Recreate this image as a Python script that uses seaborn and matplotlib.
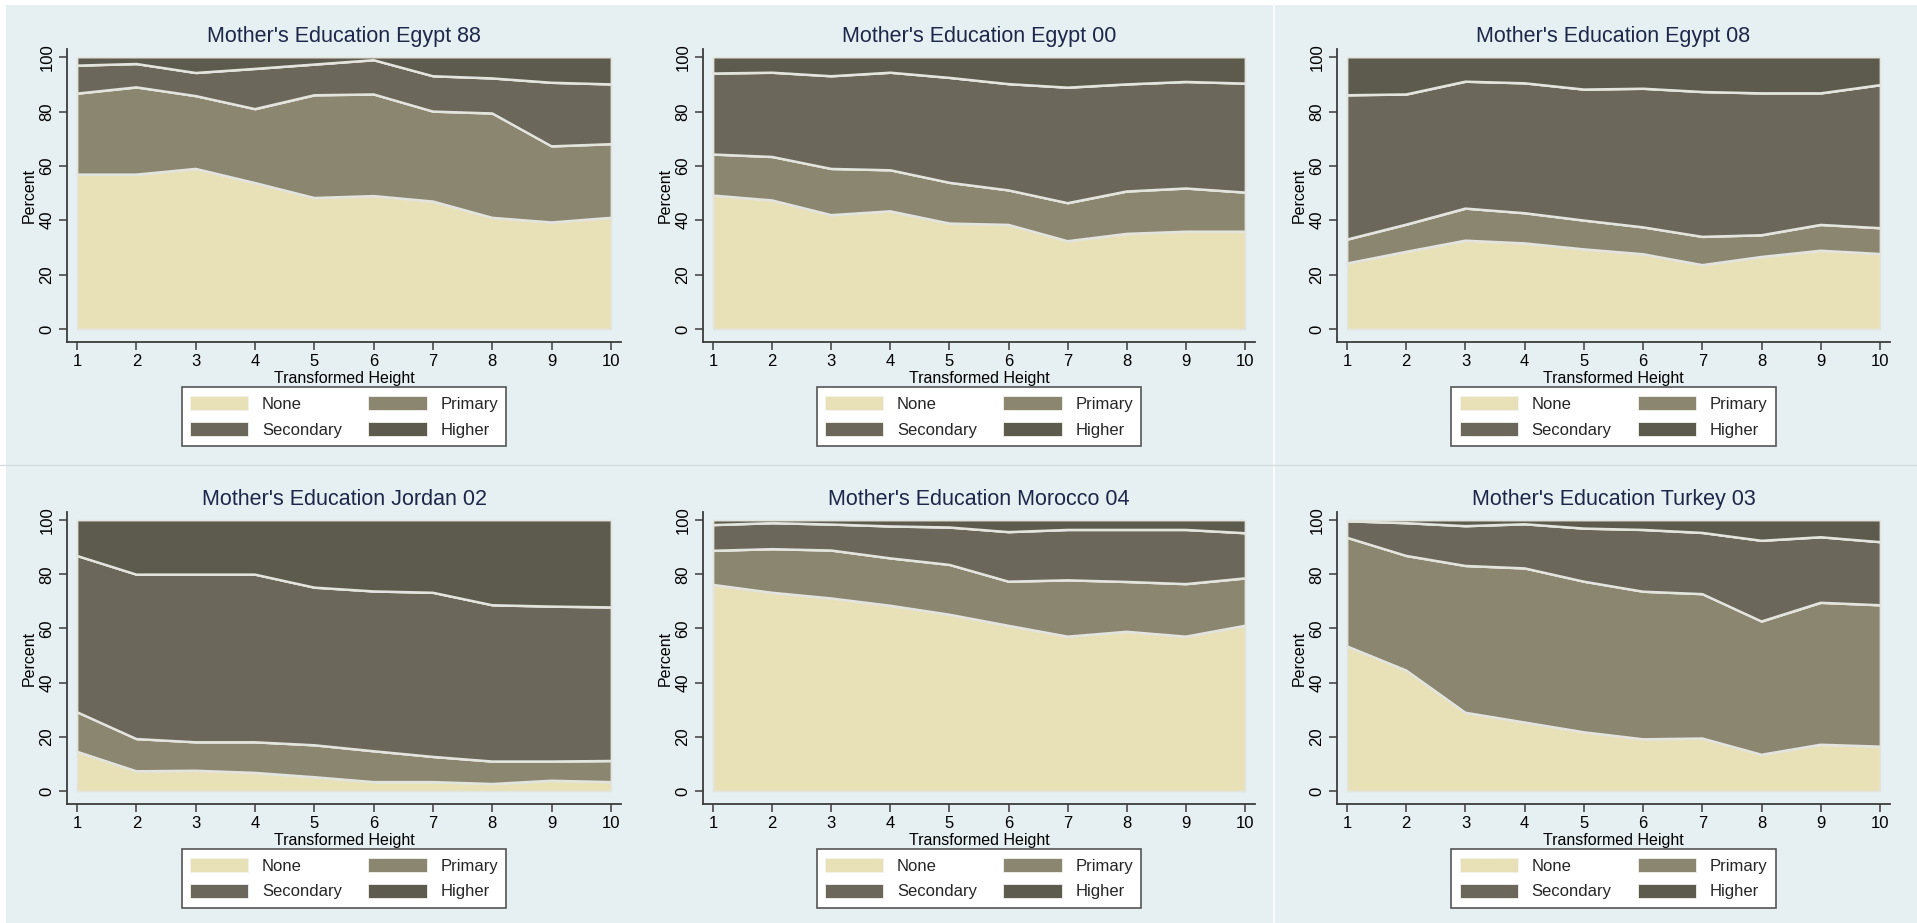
import numpy as np
import matplotlib
matplotlib.use("Agg")
import matplotlib.pyplot as plt
from matplotlib.patches import Patch, Rectangle
from matplotlib.lines import Line2D
import seaborn as sns

# Height deciles
height = [1, 2, 3, 4, 5, 6, 7, 8, 9, 10]
levels = ["None", "Primary", "Secondary", "Higher"]

# Share of mothers (%) by education level, per survey
egypt88_none = [56.8, 56.8, 58.9, 53.7, 48.2, 48.9, 46.9, 40.9, 39.2, 40.9]
egypt88_primary = [29.8, 32.1, 26.8, 27.2, 37.8, 37.4, 33.1, 38.4, 28.0, 27.1]
egypt88_secondary = [10.3, 8.6, 8.5, 14.8, 11.3, 12.6, 13.0, 12.9, 23.4, 22.0]
egypt88_higher = [3.1, 2.5, 5.8, 4.3, 2.7, 1.1, 7.0, 7.8, 9.4, 10.0]

egypt00_none = [49.1, 47.3, 41.9, 43.3, 38.8, 38.3, 32.3, 35.0, 35.8, 35.8]
egypt00_primary = [15.1, 16.0, 17.0, 15.1, 15.0, 12.7, 14.0, 15.6, 15.9, 14.4]
egypt00_secondary = [29.8, 31.0, 34.1, 35.9, 38.6, 39.1, 42.5, 39.4, 39.2, 40.1]
egypt00_higher = [6.0, 5.7, 7.0, 5.7, 7.6, 9.9, 11.2, 10.0, 9.1, 9.7]

egypt08_none = [24.1, 28.4, 32.5, 31.5, 29.3, 27.5, 23.5, 26.5, 28.8, 27.6]
egypt08_primary = [8.8, 10.0, 11.8, 11.1, 10.6, 9.9, 10.4, 8.0, 9.5, 9.5]
egypt08_secondary = [53.1, 47.9, 46.7, 47.8, 48.2, 51.0, 53.3, 52.2, 48.4, 52.6]
egypt08_higher = [14.0, 13.7, 9.0, 9.6, 11.9, 11.6, 12.8, 13.3, 13.3, 10.3]

jordan02_none = [14.5, 7.3, 7.5, 6.7, 5.1, 3.3, 3.3, 2.6, 3.8, 3.3]
jordan02_primary = [14.6, 11.9, 10.5, 11.3, 11.8, 11.4, 9.3, 8.3, 7.1, 7.8]
jordan02_secondary = [57.7, 60.7, 61.9, 61.9, 58.2, 59.0, 60.6, 57.7, 57.2, 56.7]
jordan02_higher = [13.2, 20.1, 20.1, 20.1, 24.9, 26.3, 26.8, 31.4, 31.9, 32.2]

morocco04_none = [76.1, 73.2, 71.1, 68.4, 65.1, 61.0, 57.0, 58.8, 57.0, 61.0]
morocco04_primary = [12.6, 16.1, 17.7, 17.5, 18.4, 16.3, 20.8, 18.4, 19.4, 17.5]
morocco04_secondary = [9.5, 9.6, 9.6, 11.8, 13.8, 18.3, 18.6, 19.2, 20.0, 16.7]
morocco04_higher = [1.8, 1.1, 1.6, 2.3, 2.7, 4.4, 3.6, 3.6, 3.6, 4.8]

turkey03_none = [53.4, 44.5, 28.9, 25.3, 21.7, 19.1, 19.4, 13.4, 17.1, 16.4]
turkey03_primary = [40.1, 42.3, 54.2, 56.9, 55.6, 54.5, 53.3, 49.2, 52.4, 52.2]
turkey03_secondary = [6.1, 12.1, 14.7, 16.3, 19.6, 22.8, 22.6, 29.8, 24.2, 23.3]
turkey03_higher = [0.4, 1.1, 2.2, 1.5, 3.1, 3.6, 4.7, 7.6, 6.3, 8.1]

titles = [
    "Mother's Education Egypt 88",
    "Mother's Education Egypt 00",
    "Mother's Education Egypt 08",
    "Mother's Education Jordan 02",
    "Mother's Education Morocco 04",
    "Mother's Education Turkey 03",
]
surveys = [
    [egypt88_none, egypt88_primary, egypt88_secondary, egypt88_higher],
    [egypt00_none, egypt00_primary, egypt00_secondary, egypt00_higher],
    [egypt08_none, egypt08_primary, egypt08_secondary, egypt08_higher],
    [jordan02_none, jordan02_primary, jordan02_secondary, jordan02_higher],
    [morocco04_none, morocco04_primary, morocco04_secondary, morocco04_higher],
    [turkey03_none, turkey03_primary, turkey03_secondary, turkey03_higher],
]

colors = ["#e8e1b8", "#8b8670", "#6b675a", "#5c5b4e"]
bg = "#e6eff1"
edge = "#e4e4de"
axis_color = "#3c3c3c"
title_color = "#1d2749"

sns.set_theme(style="ticks")
plt.rcParams["font.family"] = ["Liberation Sans", "DejaVu Sans"]

W, H = 1917, 923
fig = plt.figure(figsize=(W / 100, H / 100), dpi=100, facecolor=bg)

# white frame strips and panel separators
fig.add_artist(Rectangle((0, 1 - 5 / H), 1, 5 / H, transform=fig.transFigure,
                         color="white", lw=0, zorder=0))
fig.add_artist(Rectangle((0, 0), 6 / W, 1, transform=fig.transFigure,
                         color="white", lw=0, zorder=0))
fig.add_artist(Line2D([1274 / W, 1274 / W], [0, 1], transform=fig.transFigure,
                      color="white", lw=1.2, zorder=0))
fig.add_artist(Line2D([0, 1], [1 - 465 / H, 1 - 465 / H], transform=fig.transFigure,
                      color="#d3dbdd", lw=1.0, zorder=0))

col_left = [67, 703, 1337]
col_right = [621, 1255, 1890]
row_top = [49, 512]
row_bottom = [342, 804]

for i, (title, series) in enumerate(zip(titles, surveys)):
    r, c = divmod(i, 3)
    left = col_left[c] / W
    width = (col_right[c] - col_left[c]) / W
    bottom = 1 - row_bottom[r] / H
    height_f = (row_bottom[r] - row_top[r]) / H
    ax = fig.add_axes([left, bottom, width, height_f])
    ax.set_facecolor(bg)

    ax.stackplot(height, *series, colors=colors, edgecolor=edge, linewidth=1.2)

    # boundary lines between education levels
    cum = np.cumsum(np.array(series), axis=0)
    for k in range(3):
        sns.lineplot(x=height, y=cum[k], ax=ax, color=edge, linewidth=1.7,
                     legend=False, zorder=3)

    ax.set_xlim(0.83, 10.17)
    ax.set_ylim(-4.8, 103)
    ax.set_xticks(height)
    ax.set_yticks([0, 20, 40, 60, 80, 100])
    ax.set_yticklabels(["0", "20", "40", "60", "80", "100"], rotation=90,
                       va="center")
    ax.tick_params(axis="both", direction="out", length=6, width=1.1,
                   color=axis_color, labelsize=12, labelcolor="black", pad=3)
    sns.despine(ax=ax)
    for s in ("left", "bottom"):
        ax.spines[s].set_color(axis_color)
        ax.spines[s].set_linewidth(1.3)

    ax.set_xlabel("Transformed Height", fontsize=11.5, color="black", labelpad=1)
    ax.set_ylabel("Percent", fontsize=11.5, color="black", labelpad=2)
    ax.set_title(title, fontsize=15.5, color=title_color, pad=5)

    handles = [Patch(facecolor=colors[j], edgecolor="#f2f2ee", linewidth=0.6)
               for j in range(4)]
    order = [0, 2, 1, 3]
    leg = ax.legend([handles[j] for j in order], [levels[j] for j in order],
                    ncol=2, loc="upper center", bbox_to_anchor=(0.5, -0.155),
                    fontsize=12, frameon=True, fancybox=False,
                    handlelength=3.5, handleheight=0.95, handletextpad=0.8,
                    columnspacing=1.6, labelspacing=0.6, borderpad=0.5,
                    borderaxespad=0)
    frame = leg.get_frame()
    frame.set_facecolor("white")
    frame.set_edgecolor("#555555")
    frame.set_linewidth(1.2)
    frame.set_alpha(1)

fig.savefig("out.png", dpi=100, facecolor=bg)
